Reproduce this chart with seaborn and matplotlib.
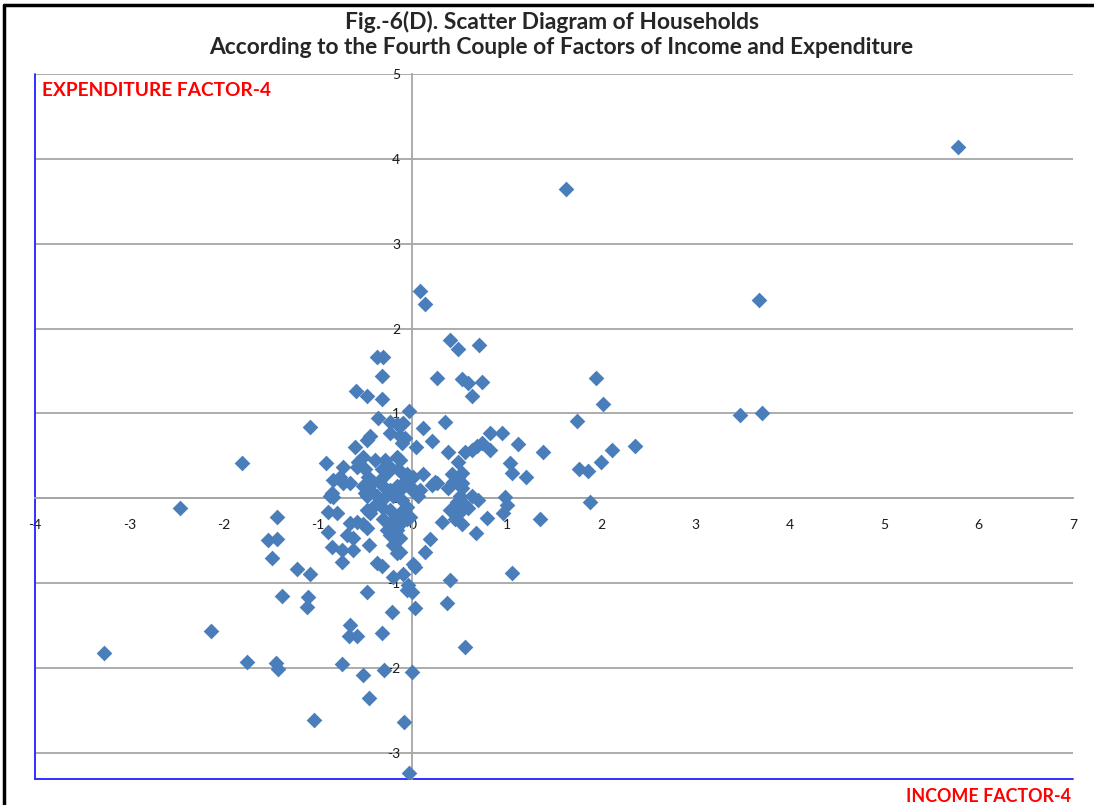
import numpy as np
import pandas as pd
import matplotlib
matplotlib.use("Agg")
import matplotlib.pyplot as plt
import seaborn as sns
from matplotlib.lines import Line2D

# ---- data ----
income_factor = [
    5.78, 1.63, 3.67, 3.47, 3.70, 2.36, 2.11, 2.00, 2.02, 1.95, 1.74, 1.77, 1.86, 1.88, 1.38, 1.35,
    1.06, 1.12, 1.20, 1.03, 1.05, 0.82, 0.95, 0.98, 1.00, 0.96, 0.79, 0.67, 0.82, 0.74, 0.68, 0.63,
    0.56, 0.48, 0.38, 0.42, 0.52, 0.53, 0.52, 0.48, 0.43, 0.38, 0.21, 0.26, 0.47, 0.56, 0.63, 0.69,
    0.40, 0.45, 0.52, 0.50, 0.59, 0.31, 0.19, 0.13, 0.40, 0.37, 0.56, 0.03, -0.10, -0.05, -0.01, 0.03,
    -0.13, 0.01, 0.06, -0.13, 0.01, 0.11, -0.10, 0.08, 0.13, 0.40, 0.48, 0.70, 0.26, 0.52, 0.59, 0.74,
    0.63, -0.04, -0.10, 0.11, 0.35, -0.13, -0.08, 0.21, 0.04, -0.13, -0.06,
    -0.38, -0.31, -0.32, -0.60, -0.48, -0.32, -1.09, -0.37, -0.24, -0.16, -0.11, -0.24, -0.45, -0.48,
    -0.11, -0.61, -0.92, -0.74, -0.77, -0.66, -0.85, -0.52, -0.40, -0.58, -0.59, -0.29, -0.16, -0.32,
    -0.27, -0.24, -0.15, -0.50, -0.47, -0.42, -0.52, -0.45, -0.48, -0.34, -0.31, -0.24, -0.16, -0.10,
    -0.03, 0.08, -0.38, -0.27, -0.21,
    -1.44, -1.53, -1.44, -1.49, -1.22, -1.09, -1.38, -1.11, -1.12, -0.66, -0.67, -0.59, -0.32, -0.48,
    -0.22, -0.06, -0.21, -0.38, -0.32, -0.16, -0.46, -0.85, -0.75, -0.63, -0.75, -0.90, -0.69, -0.63,
    -0.66, -0.59, -0.52, -0.48, -0.90, -0.80, -0.87, -0.84, -0.48, -0.42, -0.45, -0.50, -0.31, -0.24,
    -0.16, -0.27, -0.24, -0.16, -0.13, -0.21, -0.11, -0.06, -0.03, -0.34, -0.31, -0.24, -0.10, -0.06,
    -0.11, -0.84, -0.74,
    -2.46, -1.81, -3.27, -2.13, -1.75, -1.45, -1.42, -1.04, -0.75, -0.52, -0.46, -0.30, -0.01, -0.09,
    -0.04, 0.01, 0.50, 0.24,
]
expenditure_factor = [
    4.14, 3.64, 2.34, 0.98, 1.01, 0.62, 0.57, 0.43, 1.11, 1.42, 0.91, 0.34, 0.32, -0.05, 0.55, -0.25,
    -0.88, 0.64, 0.25, 0.42, 0.30, 0.77, 0.77, 0.01, -0.08, -0.17, -0.23, -0.41, 0.57, 0.65, 0.61, 0.57,
    0.54, 0.43, 0.54, 0.28, 0.30, 0.18, 0.12, 0.25, 0.19, 0.12, 0.16, 0.18, -0.04, -0.08, 0.02, -0.02,
    -0.14, -0.25, -0.31, -0.16, -0.11, -0.28, -0.48, -0.63, -0.97, -1.23, -1.75, -0.81, -0.89, -1.02, -1.11, -1.30,
    -0.64, 0.08, 0.02, 0.10, 0.25, 0.28, 0.28, 2.44, 2.29, 1.87, 1.76, 1.80, 1.42, 1.41, 1.36, 1.37,
    1.20, 1.03, 0.89, 0.83, 0.90, 0.73, 0.71, 0.67, 0.60, 0.45, 0.28,
    1.67, 1.66, 1.44, 1.26, 1.20, 1.17, 0.84, 0.95, 0.90, 0.87, 0.88, 0.77, 0.73, 0.69,
    0.65, 0.60, 0.42, 0.37, 0.25, 0.18, 0.06, 0.49, 0.45, 0.43, 0.37, 0.45, 0.48, 0.34,
    0.30, 0.37, 0.34, 0.34, 0.25, 0.19, 0.14, 0.10, 0.02, 0.22, 0.14, 0.10, 0.14, 0.18,
    0.14, 0.10, 0.02, 0.04, 0.02,
    -0.22, -0.49, -0.48, -0.70, -0.84, -0.89, -1.15, -1.17, -1.28, -1.50, -1.62, -1.63, -1.59, -1.11,
    -1.34, -1.08, -0.93, -0.76, -0.80, -0.65, -0.55, -0.58, -0.61, -0.61, -0.75, -0.40, -0.43, -0.47,
    -0.29, -0.28, -0.31, -0.35, -0.16, -0.17, 0.02, 0.01, -0.14, -0.10, -0.17, 0.06, -0.25, -0.29,
    -0.22, -0.37, -0.43, -0.37, -0.47, -0.55, -0.28, -0.25, -0.22, -0.05, -0.11, -0.14, -0.14, -0.10,
    -0.02, 0.22, 0.18,
    -0.11, 0.41, -1.83, -1.57, -1.93, -1.94, -2.01, -2.61, -1.96, -2.08, -2.35, -2.02, -2.05, -2.64,
    -3.24, -0.78, 0.02, 0.19,
]
x_ticks = [-4, -3, -2, -1, 0, 1, 2, 3, 4, 5, 6, 7]
y_ticks = [-3, -2, -1, 0, 1, 2, 3, 4, 5]
title_line1 = "Fig.-6(D). Scatter Diagram of Households"
title_line2 = "According to the Fourth Couple of Factors of Income and Expenditure"
x_label = "INCOME FACTOR-4"
y_label = "EXPENDITURE FACTOR-4"

df = pd.DataFrame({"income": income_factor, "expenditure": expenditure_factor})

sns.set_style("white")
plt.rcParams["font.family"] = ["Lato", "DejaVu Sans"]

W, H = 1094, 805
fig = plt.figure(figsize=(W / 100, H / 100), dpi=100)
ax = fig.add_axes([35 / W, 1 - 779 / H, (1073 - 35) / W, (779 - 74) / H])

sns.scatterplot(data=df, x="income", y="expenditure", marker="D", color="#4A7EBB",
                s=64, linewidth=0, ax=ax, zorder=3, legend=False)

ax.set_xlim(-4, 7)
ax.set_ylim(-3.31, 5)
ax.set_xlabel("")
ax.set_ylabel("")

grey = "#a6a6a6"
ax.set_yticks(y_ticks)
ax.set_xticks(x_ticks)
ax.yaxis.grid(True, color=grey, linewidth=1.3)
ax.xaxis.grid(False)
ax.set_axisbelow(True)

for side in ["top", "right"]:
    ax.spines[side].set_visible(False)
ax.spines["left"].set_position(("data", 0))
ax.spines["bottom"].set_position(("data", 0))
ax.spines["left"].set_color(grey)
ax.spines["bottom"].set_color(grey)
ax.spines["left"].set_linewidth(1.3)
ax.spines["bottom"].set_linewidth(1.3)

ax.tick_params(axis="x", direction="out", length=5, width=1.2, color=grey, pad=10,
               labelsize=10, labelcolor="#1a1a1a")
ax.tick_params(axis="y", direction="out", length=0, pad=9, labelsize=10, labelcolor="#1a1a1a")
ax.set_xticklabels([str(t) for t in x_ticks])
ax.set_yticklabels([str(t) for t in y_ticks])

# blue frame lines on left and bottom of plot area
ax.add_line(Line2D([0, 0], [0, 1], transform=ax.transAxes, color="#2020ff", lw=1.3, clip_on=False))
ax.add_line(Line2D([0, 1], [0, 0], transform=ax.transAxes, color="#2020ff", lw=1.3, clip_on=False))

# axis labels
ax.text(7 / 1038, (779 - 91) / 705, y_label, transform=ax.transAxes, color="#ff0000",
        fontsize=13.8, fontweight="bold", ha="left", va="center")
fig.text(1071 / W, 1 - 796 / H, x_label, color="#ff0000", fontsize=12.9, fontweight="bold",
         ha="right", va="center")

# titles
fig.text(552 / W, 1 - 22 / H, title_line1, fontsize=16.4, fontweight="bold", ha="center", va="center")
fig.text(561 / W, 1 - 47 / H, title_line2, fontsize=16.4, fontweight="bold", ha="center", va="center")

# chart border (black) on top and left
fig.add_artist(Line2D([4 / W, 4 / W], [0, 1 - 5 / H], transform=fig.transFigure, color="black", lw=2.5))
fig.add_artist(Line2D([4 / W, 1], [1 - 5 / H, 1 - 5 / H], transform=fig.transFigure, color="black", lw=2.5))

fig.savefig("out.png", dpi=100)
